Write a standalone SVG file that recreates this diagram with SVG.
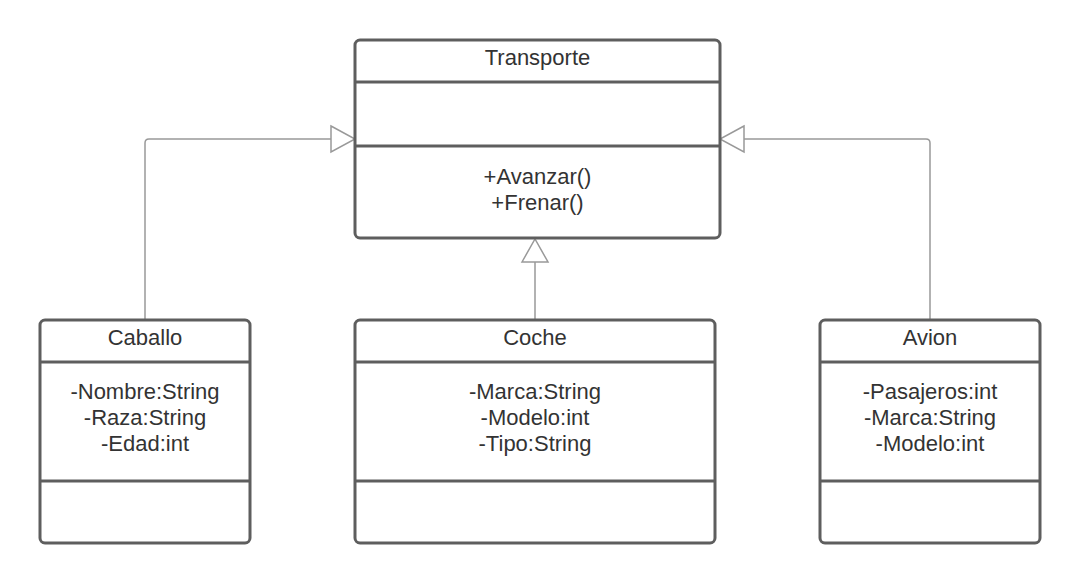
<svg xmlns="http://www.w3.org/2000/svg" width="1080" height="584" viewBox="0 0 1080 584">
<style>
.box{fill:#fff;stroke:#5e5e5e;stroke-width:3}
.div{stroke:#5e5e5e;stroke-width:3}
.t{font-family:"Liberation Sans",Arial,sans-serif;font-size:22px;fill:#333;text-anchor:middle}
.c{fill:none;stroke:#999;stroke-width:1.5}
.h{fill:#fff;stroke:#999;stroke-width:1.5}
</style>
<rect width="1080" height="584" fill="#fff"/>
<g id="connectors">
<path class="c" d="M145 320V143Q145 139 149 139H331"/>
<polygon class="h" points="331,126 355,139 331,152"/>
<path class="c" d="M930 320V143Q930 139 926 139H744"/>
<polygon class="h" points="744,126 720,139 744,152"/>
<path class="c" d="M535 320V262"/>
<polygon class="h" points="522,262 535,239 548,262"/>
</g>
<g id="Transporte">
<rect class="box" x="355" y="40" width="365" height="198" rx="5"/>
<line class="div" x1="355" y1="82" x2="720" y2="82"/>
<line class="div" x1="355" y1="146" x2="720" y2="146"/>
<text class="t" x="537.5" y="65">Transporte</text>
<text class="t" x="537.5" y="184">+Avanzar()</text>
<text class="t" x="537.5" y="210">+Frenar()</text>
</g>
<g id="Caballo">
<rect class="box" x="40" y="320" width="210" height="223" rx="5"/>
<line class="div" x1="40" y1="362" x2="250" y2="362"/>
<line class="div" x1="40" y1="481" x2="250" y2="481"/>
<text class="t" x="145" y="345">Caballo</text>
<text class="t" x="145" y="399">-Nombre:String</text>
<text class="t" x="145" y="425">-Raza:String</text>
<text class="t" x="145" y="451">-Edad:int</text>
</g>
<g id="Coche">
<rect class="box" x="355" y="320" width="360" height="223" rx="5"/>
<line class="div" x1="355" y1="362" x2="715" y2="362"/>
<line class="div" x1="355" y1="481" x2="715" y2="481"/>
<text class="t" x="535" y="345">Coche</text>
<text class="t" x="535" y="399">-Marca:String</text>
<text class="t" x="535" y="425">-Modelo:int</text>
<text class="t" x="535" y="451">-Tipo:String</text>
</g>
<g id="Avion">
<rect class="box" x="820" y="320" width="220" height="223" rx="5"/>
<line class="div" x1="820" y1="362" x2="1040" y2="362"/>
<line class="div" x1="820" y1="481" x2="1040" y2="481"/>
<text class="t" x="930" y="345">Avion</text>
<text class="t" x="930" y="399">-Pasajeros:int</text>
<text class="t" x="930" y="425">-Marca:String</text>
<text class="t" x="930" y="451">-Modelo:int</text>
</g>
</svg>
